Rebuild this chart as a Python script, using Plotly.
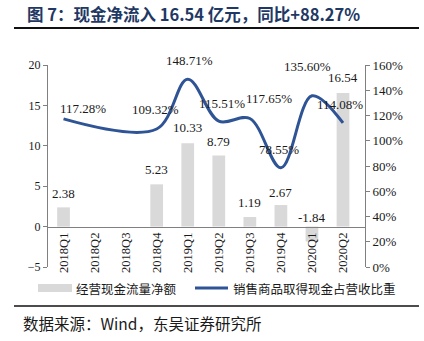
import plotly.graph_objects as go

categories = ["2018Q1", "2018Q2", "2018Q3", "2018Q4", "2019Q1", "2019Q2",
              "2019Q3", "2019Q4", "2020Q1", "2020Q2"]
cash_flow = [2.38, None, None, 5.23, 10.33, 8.79, 1.19, 2.67, -1.84, 16.54]
ratio = [1.1728, None, None, 1.0932, 1.4871, 1.1551, 1.1765, 0.7855, 1.3560, 1.1408]

bar_name = "经营现金流量净额"
line_name = "销售商品取得现金占营收比重"
title_text = "图 7：现金净流入 16.54 亿元，同比+88.27%"
source_text = "数据来源：Wind，东吴证券研究所"

W, H = 424, 341
L, R, T, B = 48, 365, 65, 267

def px(x):
    return (x - L) / (R - L)

def py(y):
    return (B - y) / (B - T)

SERIF = "Liberation Serif, Times New Roman, serif"
CJK = "Noto Sans CJK SC"
TXT = "#1a1a1a"

fig = go.Figure()
fig.add_trace(go.Bar(x=categories, y=cash_flow, name=bar_name,
                     marker=dict(color="#D9D9D9", line=dict(width=0)),
                     width=0.41, showlegend=False, yaxis="y"))
fig.add_trace(go.Scatter(x=categories, y=ratio, name=line_name, mode="lines",
                         line=dict(color="#2F5496", width=3, shape="spline", smoothing=1.0),
                         connectgaps=True, showlegend=False, yaxis="y2"))

annotations = []
# bar value labels
bar_shift = [14, 0, 0, 15, 16, 14, 14, 13, 9, 15]
for c, v, s in zip(categories, cash_flow, bar_shift):
    if v is None:
        continue
    annotations.append(dict(x=c, y=max(v, 0), xref="x", yref="y", text=f"{v:.2f}",
                            showarrow=False, yshift=s, yanchor="middle",
                            font=dict(family=SERIF, size=13, color=TXT)))
# line value labels
line_off = [(19, -10), (0, 0), (0, 0), (-1, -19), (2, -19), (3, -18),
            (19, -20), (-2, -18), (-4, -29), (-3, -18)]
for c, v, (dx, dy) in zip(categories, ratio, line_off):
    if v is None:
        continue
    annotations.append(dict(x=c, y=v, xref="x", yref="y2", text=f"{v*100:.2f}%",
                            showarrow=False, xshift=dx, yshift=-dy, yanchor="middle",
                            font=dict(family=SERIF, size=13, color=TXT)))

# title
annotations.append(dict(x=px(25), y=py(14), xref="paper", yref="paper", text="<b>" + title_text + "</b>",
                        showarrow=False, xanchor="left", yanchor="middle",
                        font=dict(family=CJK + ", " + SERIF, size=16.5, color="#1F3864")))
# source
annotations.append(dict(x=px(21), y=py(323), xref="paper", yref="paper", text=source_text,
                        showarrow=False, xanchor="left", yanchor="middle",
                        font=dict(family=CJK + ", " + SERIF, size=15.5, color=TXT)))
# legend texts
annotations.append(dict(x=px(74), y=py(288), xref="paper", yref="paper", text=bar_name,
                        showarrow=False, xanchor="left", yanchor="middle",
                        font=dict(family=CJK, size=12.5, color=TXT)))
annotations.append(dict(x=px(231), y=py(288), xref="paper", yref="paper", text=line_name,
                        showarrow=False, xanchor="left", yanchor="middle",
                        font=dict(family=CJK, size=12.5, color=TXT)))

shapes = [
    dict(type="line", xref="paper", yref="paper", x0=px(14), x1=px(419), y0=py(28), y1=py(28),
         line=dict(color="#111111", width=2)),
    dict(type="line", xref="paper", yref="paper", x0=px(14), x1=px(419), y0=py(306), y1=py(306),
         line=dict(color="#111111", width=1.5)),
    dict(type="rect", xref="paper", yref="paper", x0=px(38), x1=px(72), y0=py(292), y1=py(284),
         fillcolor="#D9D9D9", line=dict(width=0)),
    dict(type="line", xref="paper", yref="paper", x0=px(195), x1=px(228), y0=py(288), y1=py(288),
         line=dict(color="#2F5496", width=3)),
]

fig.update_layout(
    width=W, height=H,
    margin=dict(l=L, r=W - R, t=T, b=H - B, pad=0),
    paper_bgcolor="white", plot_bgcolor="white",
    bargap=0.6,
    xaxis=dict(type="category", anchor="free", position=0.2, showline=True,
               linecolor="#808080", linewidth=1, ticks="", tickangle=-90,
               tickfont=dict(family=SERIF, size=12.5, color=TXT), showgrid=False,
               zeroline=False, fixedrange=True),
    yaxis=dict(range=[-5, 20], dtick=5, showline=True, linecolor="#808080", linewidth=1,
               ticks="outside", ticklen=4, tickcolor="#808080", showgrid=False, zeroline=False,
               tickfont=dict(family=SERIF, size=12, color=TXT)),
    yaxis2=dict(range=[0, 1.6], dtick=0.2, tickformat=".0%", overlaying="y", side="right",
                showline=True, linecolor="#808080", linewidth=1, ticks="outside", ticklen=4,
                tickcolor="#808080", showgrid=False, zeroline=False,
                tickfont=dict(family=SERIF, size=13, color=TXT)),
    annotations=annotations, shapes=shapes, showlegend=False,
)

fig.write_html("out.html")
